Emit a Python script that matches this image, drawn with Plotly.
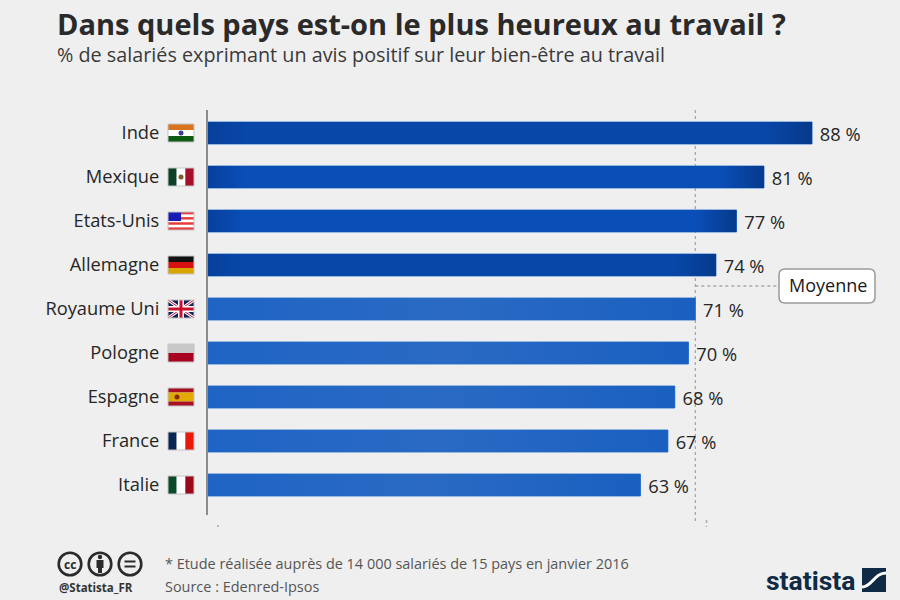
import plotly.graph_objects as go

countries = ["Inde", "Mexique", "Etats-Unis", "Allemagne", "Royaume Uni", "Pologne", "Espagne", "France", "Italie"]
values = [88, 81, 77, 74, 71, 70, 68, 67, 63]
average = 71
dark_rows = 4  # the countries above the average are drawn in the darker blue

W, H = 900, 600
L, R, T, B = 208, 0, 110, 85
PX = 6.864
xmax = (W - L - R) / PX
ybot = 8 + (H - B - 485) / 44
ytop = -(133 - T) / 44
row_index = list(range(len(countries)))
HALF = 0.25


def px(x):
    return (x - L) / (W - L - R)


def py(y):
    return 1 - (y - T) / (H - T - B)


def rect(x0, y0, x1, y1, color):
    return dict(type="rect", xref="paper", yref="paper", x0=px(x0), x1=px(x1), y0=py(y0), y1=py(y1),
                fillcolor=color, line_width=0, layer="above")


def line(x0, y0, x1, y1, color, width=1, dash=None, layer="above"):
    d = dict(color=color, width=width)
    if dash:
        d["dash"] = dash
    return dict(type="line", xref="paper", yref="paper", x0=px(x0), x1=px(x1), y0=py(y0), y1=py(y1), line=d, layer=layer)


def circle(cx, cy, r, fill, lc, lw):
    return dict(type="circle", xref="paper", yref="paper", x0=px(cx - r), x1=px(cx + r), y0=py(cy - r), y1=py(cy + r),
                fillcolor=fill, line=dict(color=lc, width=lw), layer="above")


def hstripes(cy, cols):
    x0, x1 = 168, 194
    top, h = cy - 9, 18 / len(cols)
    return [rect(x0, top + i * h, x1, top + (i + 1) * h, c) for i, c in enumerate(cols)]


def vstripes(cy, cols):
    x0, w = 168, 26 / len(cols)
    return [rect(x0 + i * w, cy - 9, x0 + (i + 1) * w, cy + 9, c) for i, c in enumerate(cols)]


shapes = []
shapes += hstripes(133, ["#d9741c", "#ffffff", "#0d5a12"]) + [circle(181, 133, 2.5, "#3a3f9a", "#3a3f9a", 0)]
shapes += vstripes(177, ["#0c3f2a", "#ffffff", "#a50f2a"]) + [circle(181, 177, 2.5, "#7a5a2a", "#7a5a2a", 0)]
shapes += hstripes(221, ["#e83a3a", "#ffffff", "#e83a3a", "#ffffff", "#e83a3a", "#ffffff", "#e83a3a"])
shapes += [rect(168, 212, 181, 221, "#1a1ab4")]
shapes += hstripes(265, ["#111111", "#d81010", "#d8a400"])
shapes += [rect(168, 300, 194, 318, "#14205c"),
           line(168, 300, 194, 318, "#ffffff", 3), line(168, 318, 194, 300, "#ffffff", 3),
           line(168, 300, 194, 318, "#c8102e", 1), line(168, 318, 194, 300, "#c8102e", 1),
           rect(178, 300, 184, 318, "#ffffff"), rect(168, 306, 194, 312, "#ffffff"),
           rect(179.5, 300, 182.5, 318, "#c8102e"), rect(168, 307.5, 194, 310.5, "#c8102e")]
shapes += hstripes(353, ["#c8c8c8", "#a8001e"])
shapes += hstripes(397, ["#a80f22", "#e0aa00", "#e0aa00", "#a80f22"]) + [circle(177, 397, 2.5, "#8a2a10", "#8a2a10", 0)]
shapes += vstripes(441, ["#0a2454", "#ffffff", "#ea1a0a"])
shapes += vstripes(485, ["#0a4a2a", "#ffffff", "#9a0a1a"])
# light frame around each flag
for cy in (133, 177, 221, 265, 309, 353, 397, 441, 485):
    shapes.append(dict(type="rect", xref="paper", yref="paper", x0=px(168), x1=px(194), y0=py(cy - 9), y1=py(cy + 9),
                       fillcolor="rgba(0,0,0,0)", line=dict(color="#c4c4c4", width=1), layer="above"))

# average guide (behind the bars) and callout
shapes += [dict(type="line", xref="x", yref="paper", x0=average, x1=average, y0=py(521), y1=py(110),
                line=dict(color="#a8a8a8", width=1.3, dash="dot"), layer="below"),
           dict(type="line", xref="x", yref="paper", x0=average, x1=(779 - L) / PX, y0=py(286), y1=py(286),
                line=dict(color="#a8a8a8", width=1.3, dash="dot"), layer="below"),
           dict(type="path", xref="paper", yref="paper",
                path=(f"M {px(785)} {py(269)} L {px(869)} {py(269)} Q {px(875)} {py(269)} {px(875)} {py(275)} "
                      f"L {px(875)} {py(297)} Q {px(875)} {py(303)} {px(869)} {py(303)} "
                      f"L {px(785)} {py(303)} Q {px(779)} {py(303)} {px(779)} {py(297)} "
                      f"L {px(779)} {py(275)} Q {px(779)} {py(269)} {px(785)} {py(269)} Z"),
                fillcolor="#ffffff", line=dict(color="#9a9a9a", width=1.5), layer="above")]

# licence icons
for cx in (70, 100, 130):
    shapes.append(circle(cx, 564, 11.3, "rgba(0,0,0,0)", "#2a2a2a", 2.6))
shapes += [circle(100, 557, 2.2, "#2a2a2a", "#2a2a2a", 0), rect(96.5, 560, 103.5, 568, "#2a2a2a"), rect(98, 568, 102, 573, "#2a2a2a"),
           rect(124.5, 560.5, 135.5, 562.5, "#2a2a2a"), rect(124.5, 565.5, 135.5, 567.5, "#2a2a2a")]

# logo mark
shapes += [rect(862, 568, 886, 592, "#0f2a44"),
           dict(type="path", xref="paper", yref="paper",
                path=(f"M {px(862)} {py(587)} C {px(872)} {py(587)} {px(874)} {py(573)} {px(886)} {py(573)}"),
                line=dict(color="#ffffff", width=3), layer="above")]

# small specks
shapes += [line(217, 526, 219, 526, "#888888", 1), line(706.5, 520, 706.5, 527, "#aaaaaa", 1.5, "dot")]

font = "Open Sans"
annotations = []


def note(x, y, text, size, color, anchor="left", bold=False, family=font):
    annotations.append(dict(xref="paper", yref="paper", x=px(x), y=py(y), text=f"<b>{text}</b>" if bold else text,
                            showarrow=False, xanchor=anchor, yanchor="middle", xshift=0,
                            borderpad=0, font=dict(family=family, size=size, color=color)))


note(56, 23, "Dans quels pays est-on le plus heureux au travail ?", 29, "#2a2a2a", bold=True)
note(56, 54, "% de salariés exprimant un avis positif sur leur bien-être au travail", 19.8, "#3a3a3a")
note(828, 285, "Moyenne", 18, "#1a1a1a", "center")
note(164, 563, "* Etude réalisée auprès de 14 000 salariés de 15 pays en janvier 2016", 14.45, "#555555")
note(164, 586, "Source : Edenred-Ipsos", 14.45, "#555555")
note(58, 587, "@Statista_FR", 11.5, "#333333", bold=True)
note(70, 564, "cc", 12, "#2a2a2a", "center", True)
note(857, 580, "statista", 26.5, "#0f2a44", "right", True, "Roboto")

fig = go.Figure(go.Bar(
    y=row_index, x=values, orientation="h", width=2 * HALF,
    marker=dict(color=["#0a4db2" if i < dark_rows else "#2267c4" for i in row_index],
                line=dict(color="#3f7fd0", width=1)),
    text=[f"\u00a0{v} %" for v in values], textposition="outside", cliponaxis=False, constraintext="none",
    textfont=dict(family=font, size=18.3, color="#262626"), hoverinfo="skip",
))
# horizontal shading of each bar, on top of the bar itself
for i, v in zip(row_index, values):
    mid = "#0847a8" if i in (0, 3) else "#0a4fb8"
    stops = ([[0, "#07409c"], [0.07, mid], [0.92, mid], [1, "#063a8c"]] if i < dark_rows
             else [[0, "#1f64c4"], [0.5, "#2a6ac4"], [1, "#1a60c0"]])
    fig.add_trace(go.Scatter(
        x=[0, v, v, 0, 0], y=[i - HALF, i - HALF, i + HALF, i + HALF, i - HALF],
        mode="lines", line=dict(width=0), fill="toself",
        fillgradient=dict(type="horizontal", colorscale=stops), hoverinfo="skip",
    ))

fig.update_layout(
    width=W, height=H, margin=dict(l=L, r=R, t=T, b=B, pad=0, autoexpand=False),
    paper_bgcolor="#efefef", plot_bgcolor="#efefef", showlegend=False,
    shapes=shapes, annotations=annotations,
    xaxis=dict(range=[0, xmax], visible=False, fixedrange=True),
    yaxis=dict(range=[ybot, ytop], tickmode="array", tickvals=row_index, ticktext=countries,
               showline=True, linecolor="#8c8c8c", linewidth=2, ticks="", showgrid=False,
               ticklabelstandoff=43, zeroline=False,
               tickfont=dict(family=font, size=18.3, color="#262626")),
)
fig.write_html("out.html", config=dict(displayModeBar=False),
               post_script="document.body.style.margin='0';document.body.style.background='#efefef';")
